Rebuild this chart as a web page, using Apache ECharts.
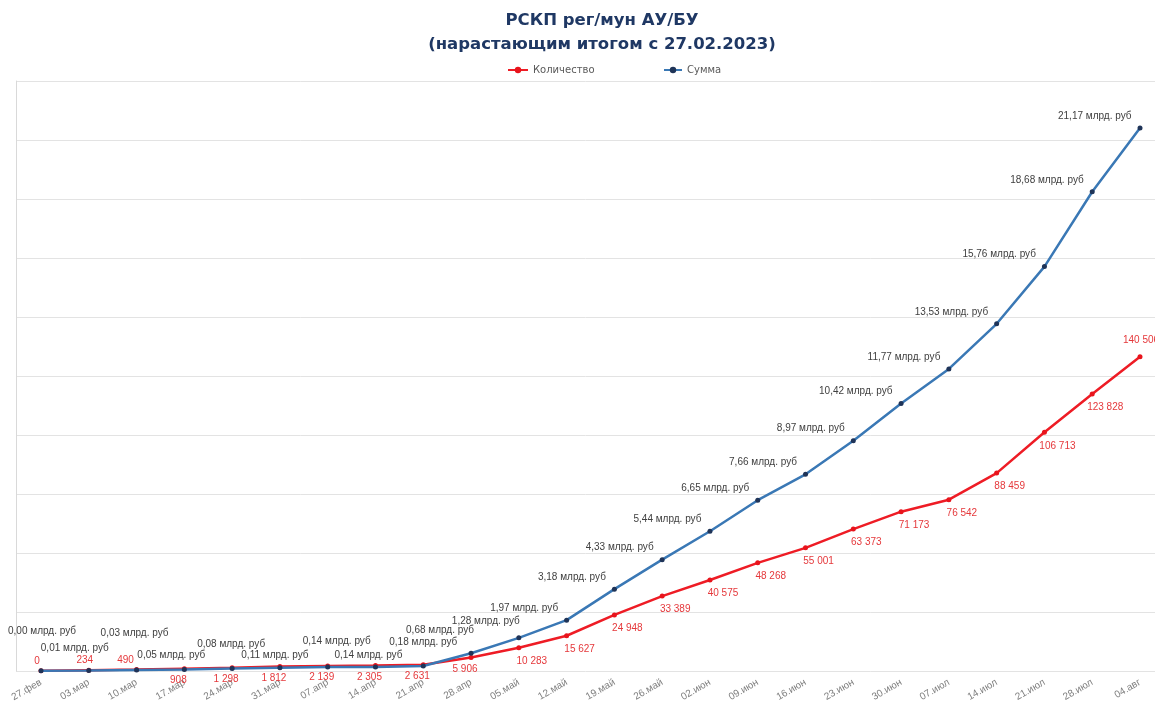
<!DOCTYPE html>
<html>
<head>
<meta charset="utf-8">
<script src="https://cdn.jsdelivr.net/npm/echarts@6/dist/echarts.min.js"></script>
<style>
html,body{margin:0;padding:0;background:#fff;}
#chart{width:1155px;height:704px;}
</style>
</head>
<body>
<div id="chart"></div>
<script>
const categories = ['27.фев','03.мар','10.мар','17.мар','24.мар','31.мар','07.апр','14.апр','21.апр','28.апр','05.май','12.май','19.май','26.май','02.июн','09.июн','16.июн','23.июн','30.июн','07.июл','14.июл','21.июл','28.июл','04.авг'];
const countValues = [0,234,490,908,1298,1812,2139,2305,2631,5906,10283,15627,24948,33389,40575,48268,55001,63373,71173,76542,88459,106713,123828,140506];
const sumValues = [0.00,0.01,0.03,0.05,0.08,0.11,0.14,0.14,0.18,0.68,1.28,1.97,3.18,4.33,5.44,6.65,7.66,8.97,10.42,11.77,13.53,15.76,18.68,21.17];

// label layout tweaks for the crowded start of the chart (styling only)
const earlyBlueDx = [1,-14,-2,-13,-1,-5,9,-7,0];
const earlyBlueUp = [38,21,35,13,23,11,24,10,22];

function fmtCount(v){ return String(v).replace(/\B(?=(\d{3})+(?!\d))/g,' '); }
function fmtSum(v){ return v.toFixed(2).replace('.',',') + ' млрд. руб'; }

const sumData = sumValues.map((v,i)=>{
  if (i < earlyBlueDx.length) {
    return {value:v, label:{position:'top', align:'center', distance: earlyBlueUp[i]-6, offset:[earlyBlueDx[i],0]}};
  }
  if (i === 9 || i === 10) {
    return {value:v, label:{position:'top', align:'center', distance: (i===9?15:9), offset:[i===9?-31:-33,0]}};
  }
  return {value:v};
});
const countData = countValues.map((v,i)=>{
  if (i < 3) return {value:v, label:{position:'top', distance:2, offset:[i===2?-11:-4,0]}};
  if (i === countValues.length-1) return {value:v, label:{position:'top', distance:9, offset:[1,0]}};
  if (i < 10) return {value:v, label:{position:'bottom', distance:4, offset:[-6,0]}};
  return {value:v, label:{position:'bottom', distance:6, offset:[13,0]}};
});

const chart = echarts.init(document.getElementById('chart'));
chart.setOption({
  animation:false,
  backgroundColor:'#ffffff',
  title:{
    text:'РСКП рег/мун АУ/БУ\n(нарастающим итогом с 27.02.2023)',
    left:597, top:4, textAlign:'center',
    textStyle:{fontFamily:'DejaVu Sans', fontWeight:'bold', fontSize:16.5, lineHeight:24, color:'#1F3864'}
  },
  legend:[
    {data:['Количество'], left:502, top:60, itemWidth:20, itemHeight:8,
     textStyle:{fontFamily:'DejaVu Sans', fontSize:10, color:'#595959'}},
    {data:['Сумма'], left:658, top:60, itemWidth:18, itemHeight:8,
     textStyle:{fontFamily:'DejaVu Sans', fontSize:10, color:'#595959'}}
  ],
  grid:[
    {left:16, top:81, right:0, bottom:33},
    {left:41, top:81, right:15, bottom:33}
  ],
  xAxis:[
    {gridIndex:0, type:'value', min:0, max:1, show:false, splitLine:{show:false}},
    {gridIndex:1, type:'category', data:categories, boundaryGap:false,
     axisLine:{show:false},
     axisTick:{show:false},
     axisLabel:{rotate:30, margin:11, fontFamily:'Liberation Sans', fontSize:10, color:'#7f7f7f', interval:0}}
  ],
  yAxis:[
    {gridIndex:0, type:'value', min:0, max:23, interval:2.3,
     axisLine:{show:true, lineStyle:{color:'#d9d9d9'}},
     axisTick:{show:false}, axisLabel:{show:false},
     splitLine:{show:true, lineStyle:{color:'#e3e3e3', width:1}}},
    {gridIndex:1, type:'value', min:0, max:23, interval:2.3, show:false, splitLine:{show:false}},
    {gridIndex:1, type:'value', min:0, max:264000, interval:26400, show:false, splitLine:{show:false}}
  ],
  series:[
    {name:'Количество', type:'line', xAxisIndex:1, yAxisIndex:2, data:countData,
     symbol:'circle', symbolSize:5,
     lineStyle:{color:'#EE1C25', width:2.5},
     itemStyle:{color:'#E8141C'},
     label:{show:true, formatter:p=>fmtCount(p.value), fontFamily:'Liberation Sans', fontSize:10, color:'#E5383B'},
     z:2},
    {name:'Сумма', type:'line', xAxisIndex:1, yAxisIndex:1, data:sumData,
     symbol:'circle', symbolSize:5,
     lineStyle:{color:'#3A78B5', width:2.5},
     itemStyle:{color:'#1F3458'},
     label:{show:true, position:'left', distance:6, offset:[0,-12], formatter:p=>fmtSum(p.value), fontFamily:'Liberation Sans', fontSize:10, color:'#404040'},
     z:3}
  ]
});
</script>
</body>
</html>
